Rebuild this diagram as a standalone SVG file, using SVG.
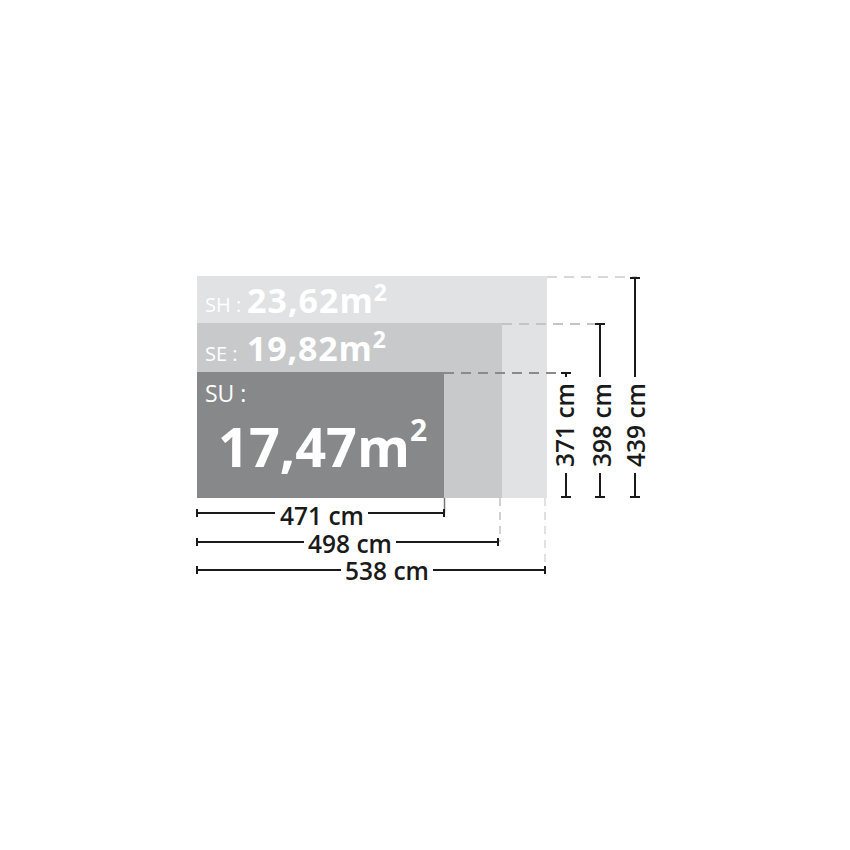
<svg xmlns="http://www.w3.org/2000/svg" width="850" height="850" viewBox="0 0 850 850">
<style>
.big{font-family:"Open Sans","Liberation Sans",sans-serif;font-weight:700;fill:#fff}
.lbl{font-family:"Open Sans","Liberation Sans",sans-serif;font-weight:400;fill:#fff}
.dim{font-family:"Open Sans","Liberation Sans",sans-serif;font-weight:600;fill:#1a1a1a;font-size:24.5px}
.dl{stroke:#1a1a1a;stroke-width:2;fill:none}
</style>
<rect width="850" height="850" fill="#fff"/>
<g id="SH">
<rect x="197" y="276" width="350" height="222" fill="#e1e2e3"/>
<text class="lbl" x="205" y="312" font-size="20">SH :</text>
<text class="big" x="247" y="312.5" font-size="34" letter-spacing="1">23,62m<tspan font-size="23" dy="-12" letter-spacing="0">2</tspan></text>
</g>
<g id="SE">
<rect x="197" y="323" width="305" height="175" fill="#c8c9ca"/>
<text class="lbl" x="205" y="361" font-size="20">SE :</text>
<text class="big" x="247" y="361" font-size="34" letter-spacing="0.8">19,82m<tspan font-size="23" dy="-13" letter-spacing="0">2</tspan></text>
</g>
<g id="SU">
<rect x="197" y="372" width="247" height="126" fill="#87888a"/>
<text class="lbl" x="205" y="402" font-size="23">SU :</text>
<text class="big" x="218" y="467" font-size="54">17,47m<tspan font-size="30" dy="-26">2</tspan></text>
</g>
<g id="connectors">
<line x1="547" y1="277" x2="637" y2="277" stroke="#d8d8d8" stroke-width="2" stroke-dasharray="10,7"/>
<line x1="502" y1="324" x2="600" y2="324" stroke="#c4c4c4" stroke-width="2" stroke-dasharray="10,7"/>
<line x1="444" y1="373" x2="566" y2="373" stroke="#8a8a8a" stroke-width="2" stroke-dasharray="10,7"/>
<line x1="444.5" y1="498" x2="444.5" y2="513" stroke="#777" stroke-width="1.5"/>
<line x1="500" y1="498" x2="500" y2="542" stroke="#c4c4c4" stroke-width="1.5" stroke-dasharray="8,6"/>
<line x1="545" y1="498" x2="545" y2="570" stroke="#d8d8d8" stroke-width="1.5" stroke-dasharray="8,6"/>
<path class="dl" d="M197 513H275M368 513H444M197 509V517M444 509V517"/>
<path class="dl" d="M197 542H304M396 542H498M197 538V546M498 538V546"/>
<path class="dl" d="M197 570H341M433 570H545M197 566V574M545 566V574"/>
<text class="dim" x="322" y="525" text-anchor="middle">471 cm</text>
<text class="dim" x="350" y="553" text-anchor="middle">498 cm</text>
<text class="dim" x="387" y="580" text-anchor="middle">538 cm</text>
<path class="dl" d="M566 373V377M566 473V497M561 373H571M561 497H571"/>
<path class="dl" d="M600 324V377M600 473V497M595 324H605M595 497H605"/>
<path class="dl" d="M635 278V377M635 473V497M630 278H640M630 497H640"/>
<text class="dim" transform="translate(574,425) rotate(-90)" text-anchor="middle">371 cm</text>
<text class="dim" transform="translate(611,425) rotate(-90)" text-anchor="middle">398 cm</text>
<text class="dim" transform="translate(645,425) rotate(-90)" text-anchor="middle">439 cm</text>
</g>
</svg>
